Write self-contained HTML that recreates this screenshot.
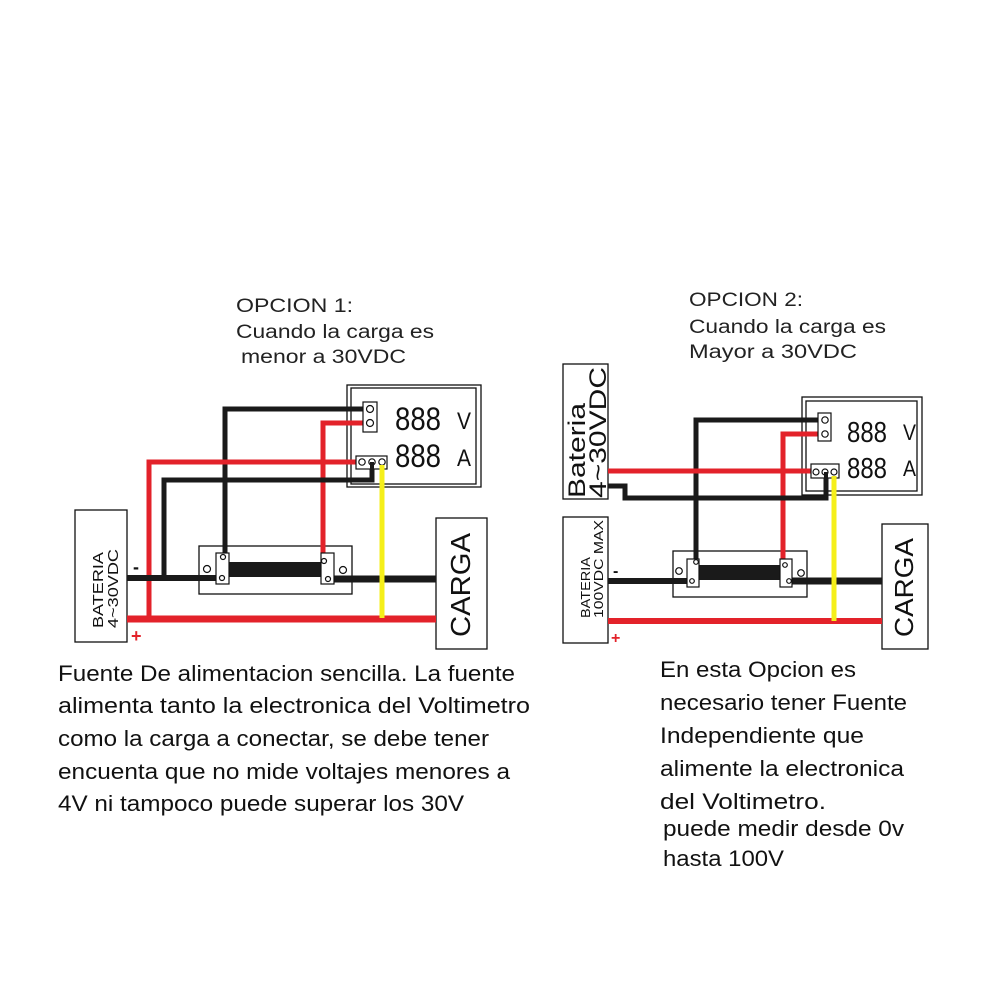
<!DOCTYPE html>
<html><head><meta charset="utf-8"><style>
html,body{margin:0;padding:0;background:#fff;}
svg{display:block;}
text{font-family:"Liberation Sans",sans-serif;}
</style></head><body>
<svg width="1000" height="1000" viewBox="0 0 1000 1000" xmlns="http://www.w3.org/2000/svg">
<rect width="1000" height="1000" fill="#fff"/>
<!-- Titles -->
<g font-size="19" fill="#222">
<text x="236" y="312" textLength="117" lengthAdjust="spacingAndGlyphs">OPCION 1:</text>
<text x="236" y="338" textLength="198" lengthAdjust="spacingAndGlyphs">Cuando la carga es</text>
<text x="241" y="363" textLength="165" lengthAdjust="spacingAndGlyphs">menor a 30VDC</text>
<text x="689" y="306" textLength="114" lengthAdjust="spacingAndGlyphs">OPCION 2:</text>
<text x="689" y="333" textLength="197" lengthAdjust="spacingAndGlyphs">Cuando la carga es</text>
<text x="689" y="358" textLength="168" lengthAdjust="spacingAndGlyphs">Mayor  a 30VDC</text>
</g>

<!-- LEFT DIAGRAM -->
<g fill="none" stroke="#111" stroke-width="1.3">
<rect x="347" y="385" width="134" height="102"/>
<rect x="351" y="388" width="125" height="96"/>
<rect x="199" y="546" width="153" height="48"/>
<rect x="75" y="510" width="52" height="132"/>
<rect x="436" y="518" width="51" height="131"/>
</g>
<!-- wires left -->
<g fill="none" stroke-linejoin="miter">
<polyline points="366,409 225,409 225,557" stroke="#1a1a1a" stroke-width="5"/>
<polyline points="366,423 323,423 323,562" stroke="#e3222a" stroke-width="5"/>
<polyline points="362,462 149,462 149,619" stroke="#e3222a" stroke-width="5"/>
<polyline points="372,462 372,480 164,480 164,578" stroke="#1a1a1a" stroke-width="5"/>
<line x1="127" y1="619" x2="436" y2="619" stroke="#e3222a" stroke-width="7"/>
<line x1="382" y1="462" x2="382" y2="618" stroke="#f5ef1a" stroke-width="5"/>
<line x1="127" y1="578" x2="218" y2="578" stroke="#1a1a1a" stroke-width="6"/>
<line x1="330" y1="579" x2="436" y2="579" stroke="#1a1a1a" stroke-width="7"/>
</g>
<rect x="229" y="562" width="92" height="15" fill="#1a1a1a"/>
<g fill="#fff" stroke="#111" stroke-width="1.2">
<rect x="216" y="553" width="13" height="31"/>
<rect x="321" y="553" width="13" height="31"/>
<rect x="363" y="402" width="14" height="30"/>
<rect x="356" y="456" width="31" height="13"/>
<circle cx="370" cy="409" r="3.5"/><circle cx="370" cy="423" r="3.5"/>
<circle cx="362" cy="462" r="3.2"/><circle cx="372" cy="462" r="3.2"/><circle cx="382" cy="462" r="3.2"/>
<circle cx="207" cy="569" r="3.5"/><circle cx="343" cy="570" r="3.5"/>
<circle cx="223" cy="557" r="2.5"/><circle cx="222" cy="578" r="2.5"/>
<circle cx="324" cy="561" r="2.5"/><circle cx="328" cy="579" r="2.5"/>
</g>
<line x1="372" y1="462" x2="372" y2="480" stroke="#1a1a1a" stroke-width="4"/>
<line x1="382" y1="465" x2="382" y2="618" stroke="#f5ef1a" stroke-width="5"/>
<g fill="#111">
<text x="395" y="430" font-size="32" textLength="46" lengthAdjust="spacingAndGlyphs">888</text>
<text x="395" y="467" font-size="32" textLength="46" lengthAdjust="spacingAndGlyphs">888</text>
<text x="457" y="429" font-size="24" textLength="14" lengthAdjust="spacingAndGlyphs">V</text>
<text x="457" y="466" font-size="24" textLength="14" lengthAdjust="spacingAndGlyphs">A</text>
<text transform="translate(103,628) rotate(-90)" font-size="15" textLength="76" lengthAdjust="spacingAndGlyphs">BATERIA</text>
<text transform="translate(118,628) rotate(-90)" font-size="15" textLength="79" lengthAdjust="spacingAndGlyphs">4~30VDC</text>
<text transform="translate(470,637) rotate(-90)" font-size="28" textLength="104" lengthAdjust="spacingAndGlyphs">CARGA</text>
<text x="133" y="573" font-size="18" font-weight="bold">-</text>
</g>
<text x="131" y="642" font-size="18" font-weight="bold" fill="#e3222a">+</text>

<!-- RIGHT DIAGRAM -->
<g fill="none" stroke="#111" stroke-width="1.3">
<rect x="802" y="397" width="120" height="98"/>
<rect x="806" y="401" width="111" height="90"/>
<rect x="673" y="551" width="134" height="46"/>
<rect x="563" y="364" width="45" height="135"/>
<rect x="563" y="517" width="45" height="126"/>
<rect x="882" y="524" width="46" height="125"/>
</g>
<g fill="none">
<polyline points="821,420 696,420 696,562" stroke="#1a1a1a" stroke-width="5"/>
<polyline points="821,434 783,434 783,563" stroke="#e3222a" stroke-width="5"/>
<line x1="608" y1="471" x2="816" y2="471" stroke="#e3222a" stroke-width="5"/>
<polyline points="608,486 625,486 625,498 826,498 826,472" stroke="#1a1a1a" stroke-width="5"/>
<line x1="608" y1="621" x2="882" y2="621" stroke="#e3222a" stroke-width="6"/>
<line x1="834" y1="474" x2="834" y2="621" stroke="#f5ef1a" stroke-width="5"/>
<line x1="608" y1="581" x2="692" y2="581" stroke="#1a1a1a" stroke-width="6"/>
<line x1="788" y1="581" x2="882" y2="581" stroke="#1a1a1a" stroke-width="7"/>
</g>
<rect x="699" y="565" width="81" height="15" fill="#1a1a1a"/>
<g fill="#fff" stroke="#111" stroke-width="1.2">
<rect x="687" y="559" width="12" height="28"/>
<rect x="780" y="559" width="12" height="28"/>
<rect x="818" y="413" width="13" height="28"/>
<rect x="811" y="464" width="28" height="14"/>
<circle cx="825" cy="420" r="3.2"/><circle cx="825" cy="434" r="3.2"/>
<circle cx="816" cy="472" r="3"/><circle cx="825" cy="472" r="3"/><circle cx="834" cy="472" r="3"/>
<circle cx="679" cy="571" r="3.3"/><circle cx="801" cy="573" r="3.3"/>
<circle cx="696" cy="562" r="2.3"/><circle cx="692" cy="581" r="2.3"/>
<circle cx="785" cy="565" r="2.3"/><circle cx="789" cy="581" r="2.3"/>
</g>
<line x1="826" y1="472" x2="826" y2="498" stroke="#1a1a1a" stroke-width="4"/>
<line x1="834" y1="476" x2="834" y2="621" stroke="#f5ef1a" stroke-width="5"/>
<g fill="#111">
<text x="847" y="442" font-size="29" textLength="40" lengthAdjust="spacingAndGlyphs">888</text>
<text x="847" y="478" font-size="29" textLength="40" lengthAdjust="spacingAndGlyphs">888</text>
<text x="903" y="440" font-size="22" textLength="13" lengthAdjust="spacingAndGlyphs">V</text>
<text x="903" y="476" font-size="22" textLength="13" lengthAdjust="spacingAndGlyphs">A</text>
<text transform="translate(585,498) rotate(-90)" font-size="24" textLength="95" lengthAdjust="spacingAndGlyphs">Bateria</text>
<text transform="translate(606,498) rotate(-90)" font-size="24" textLength="131" lengthAdjust="spacingAndGlyphs">4~30VDC</text>
<text transform="translate(590,618) rotate(-90)" font-size="13" textLength="61" lengthAdjust="spacingAndGlyphs">BATERIA</text>
<text transform="translate(603,618) rotate(-90)" font-size="13" textLength="98" lengthAdjust="spacingAndGlyphs">100VDC MAX</text>
<text transform="translate(913,637) rotate(-90)" font-size="26" textLength="99" lengthAdjust="spacingAndGlyphs">CARGA</text>
<text x="613" y="576" font-size="16" font-weight="bold">-</text>
</g>
<text x="611" y="643" font-size="16" font-weight="bold" fill="#e3222a">+</text>

<!-- Paragraphs -->
<g font-size="22" fill="#111">
<text x="58" y="681" textLength="457" lengthAdjust="spacingAndGlyphs">Fuente De alimentacion sencilla. La fuente</text>
<text x="58" y="713" textLength="472" lengthAdjust="spacingAndGlyphs">alimenta tanto la electronica del Voltimetro</text>
<text x="58" y="746" textLength="431" lengthAdjust="spacingAndGlyphs">como la carga a conectar, se debe tener</text>
<text x="58" y="779" textLength="452" lengthAdjust="spacingAndGlyphs">encuenta que no mide voltajes menores a</text>
<text x="58" y="811" textLength="406" lengthAdjust="spacingAndGlyphs">4V ni tampoco puede superar los 30V</text>
<text x="660" y="677" textLength="196" lengthAdjust="spacingAndGlyphs">En esta Opcion  es</text>
<text x="660" y="710" textLength="247" lengthAdjust="spacingAndGlyphs">necesario tener Fuente</text>
<text x="660" y="743" textLength="204" lengthAdjust="spacingAndGlyphs">Independiente que</text>
<text x="660" y="776" textLength="244" lengthAdjust="spacingAndGlyphs">alimente la electronica</text>
<text x="660" y="809" textLength="166" lengthAdjust="spacingAndGlyphs">del Voltimetro.</text>
<text x="663" y="836" textLength="241" lengthAdjust="spacingAndGlyphs">puede medir desde 0v</text>
<text x="663" y="866" textLength="121" lengthAdjust="spacingAndGlyphs">hasta 100V</text>
</g>
</svg>
</body></html>
